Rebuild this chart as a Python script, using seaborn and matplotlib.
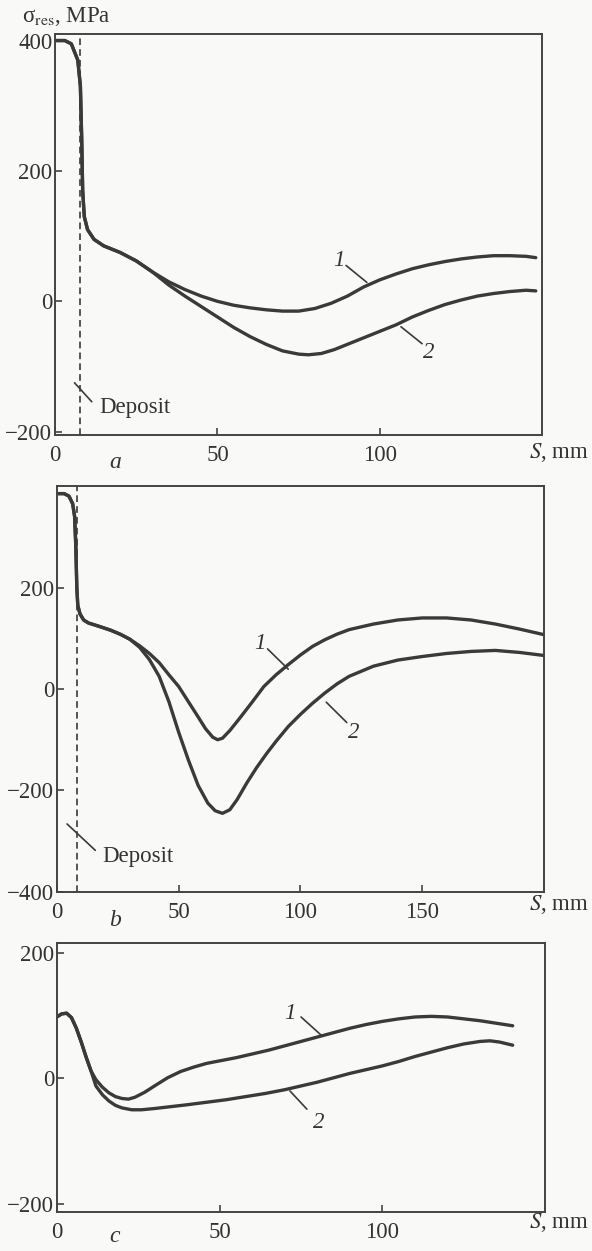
import pandas as pd
import matplotlib
matplotlib.use('Agg')
import matplotlib.pyplot as plt
import seaborn as sns

sns.set_style('ticks')
plt.rcParams['font.family'] = ['Liberation Serif', 'DejaVu Serif']
plt.rcParams['mathtext.fontset'] = 'stix'
plt.rcParams['axes.unicode_minus'] = True

# --- panel a ---
a_start_s = [0, 3, 5, 7, 7.8, 8.2, 8.5, 9, 10, 12, 15, 20, 25, 30]
a_start_v = [400, 400, 395, 370, 330, 250, 170, 130, 110, 95, 85, 75, 62, 45]
a1_s = [35, 40, 45, 50, 55, 60, 65, 70, 75, 80, 85, 90, 95, 100, 105, 110, 115, 120, 125, 130, 135, 140, 145, 148]
a1_v = [30, 18, 8, 0, -6, -10, -13, -15, -15, -11, -3, 8, 22, 33, 42, 50, 56, 61, 65, 68, 70, 70, 69, 67]
a2_s = [35, 40, 45, 50, 55, 60, 65, 70, 75, 78, 82, 86, 90, 95, 100, 105, 110, 115, 120, 125, 130, 135, 140, 145, 148]
a2_v = [25, 8, -8, -24, -40, -54, -66, -76, -81, -82, -80, -74, -66, -56, -46, -36, -24, -14, -5, 2, 8, 12, 15, 17, 16]

# --- panel b ---
b_start_s = [0, 3, 5, 6.5, 7.3, 7.8, 8.2, 8.6, 9.5, 11, 13, 17, 22, 26, 30]
b_start_v = [385, 385, 380, 365, 340, 280, 200, 165, 148, 136, 130, 124, 116, 108, 98]
b1_s = [34, 38, 42, 46, 50, 54, 58, 61, 64, 66, 68, 71, 75, 80, 85, 90, 95, 100, 105, 110, 115, 120, 130, 140, 150, 160, 170, 180, 190, 200]
b1_v = [85, 70, 52, 28, 5, -25, -55, -78, -95, -100, -97, -82, -58, -27, 5, 28, 48, 67, 84, 97, 108, 117, 128, 136, 140, 140, 136, 128, 118, 107]
b2_s = [34, 38, 42, 46, 50, 54, 58, 62, 65, 68, 71, 74, 78, 82, 86, 90, 95, 100, 105, 110, 115, 120, 130, 140, 150, 160, 170, 180, 190, 200]
b2_v = [82, 58, 25, -25, -85, -140, -190, -225, -240, -245, -238, -218, -185, -155, -128, -103, -74, -50, -28, -8, 10, 25, 45, 57, 64, 70, 74, 76, 72, 66]

# --- panel c ---
c_start_s = [0, 1.5, 3, 4.5, 6, 7.5, 9, 10.5]
c_start_v = [98, 103, 104, 97, 80, 58, 34, 12]
c1_s = [12, 14, 16, 18, 20, 22, 24, 27, 30, 34, 38, 42, 46, 50, 55, 60, 65, 70, 75, 80, 85, 90, 95, 100, 105, 110, 115, 120, 125, 130, 135, 140]
c1_v = [-2, -14, -23, -29, -32, -33, -30, -22, -12, 1, 11, 18, 24, 28, 33, 39, 45, 52, 59, 66, 73, 80, 86, 91, 95, 98, 99, 98, 95, 92, 88, 84]
c2_s = [12, 14, 16, 18, 20, 23, 26, 30, 35, 40, 46, 52, 58, 64, 70, 75, 80, 85, 90, 95, 100, 105, 110, 115, 120, 125, 130, 133, 136, 140]
c2_v = [-12, -26, -36, -43, -47, -50, -50, -48, -45, -42, -38, -34, -29, -24, -18, -12, -6, 1, 8, 14, 20, 27, 35, 42, 49, 55, 59, 60, 58, 53]

deposit_a = 7.7
deposit_b = 8.2

ink = '#3a3a3a'
bg = '#f9f9f7'
fs = 16.5


def make_df(start_s, start_v, s1, v1, s2, v2):
    rows = []
    for s, v in zip(start_s + s1, start_v + v1):
        rows.append({'S': s, 'sigma': v, 'curve': '1'})
    for s, v in zip(start_s + s2, start_v + v2):
        rows.append({'S': s, 'sigma': v, 'curve': '2'})
    return pd.DataFrame(rows)


fig = plt.figure(figsize=(5.92, 12.51), dpi=100, facecolor=bg)
ax_a = fig.add_axes([0.093, 0.6523, 0.823, 0.3205])
ax_b = fig.add_axes([0.096, 0.287, 0.823, 0.3245])
ax_c = fig.add_axes([0.096, 0.0312, 0.825, 0.215])

panels = [
    (ax_a, make_df(a_start_s, a_start_v, a1_s, a1_v, a2_s, a2_v), (0, 150), (-205, 410), [0, 50, 100], [-200, 0, 200, 400]),
    (ax_b, make_df(b_start_s, b_start_v, b1_s, b1_v, b2_s, b2_v), (0, 200), (-400, 400), [0, 50, 100, 150], [-400, -200, 0, 200]),
    (ax_c, make_df(c_start_s, c_start_v, c1_s, c1_v, c2_s, c2_v), (0, 150), (-213, 216), [0, 50, 100], [-200, 0, 200]),
]

for ax, df, xl, yl, xt, yt in panels:
    ax.set_facecolor(bg)
    sns.lineplot(data=df, x='S', y='sigma', hue='curve', palette=[ink, ink],
                 linewidth=2.4, legend=False, sort=False, ax=ax)
    ax.set_xlim(*xl)
    ax.set_ylim(*yl)
    ax.set_xticks(xt)
    ax.set_yticks(yt)
    ax.set_xlabel('')
    ax.set_ylabel('')
    for sp in ax.spines.values():
        sp.set_visible(True)
        sp.set_linewidth(1.4)
        sp.set_color('#444444')
    ax.tick_params(direction='in', length=5, width=1.2, color='#444444',
                   labelsize=fs, labelcolor='#333333')
    ax.tick_params(axis='x', pad=7)
    ax.tick_params(axis='y', pad=2)

lead = dict(arrowstyle='-', color=ink, lw=1.2, shrinkA=0, shrinkB=0)
txt = dict(fontsize=fs, color='#333333')

# panel a annotations
ax_a.axvline(deposit_a, color=ink, lw=1.2, ls=(0, (4, 2.5)))
ax_a.annotate('', xy=(96, 29), xytext=(89.6, 55), arrowprops=lead)
ax_a.text(87.3, 62, '1', style='italic', ha='center', va='center', **txt)
ax_a.annotate('', xy=(113, -65), xytext=(106.5, -39), arrowprops=lead)
ax_a.text(115, -78, '2', style='italic', ha='center', va='center', **txt)
ax_a.annotate('', xy=(11.3, -154), xytext=(6, -125), arrowprops=lead)
ax_a.text(13.5, -163, 'Deposit', ha='left', va='center', **txt)

# panel b annotations
ax_b.axvline(deposit_b, color=ink, lw=1.2, ls=(0, (4, 2.5)))
ax_b.annotate('', xy=(95, 39), xytext=(86.5, 79), arrowprops=lead)
ax_b.text(83.4, 90, '1', style='italic', ha='center', va='center', **txt)
ax_b.annotate('', xy=(119, -66), xytext=(110.6, -26), arrowprops=lead)
ax_b.text(122, -86, '2', style='italic', ha='center', va='center', **txt)
ax_b.annotate('', xy=(15.8, -318), xytext=(4.2, -266), arrowprops=lead)
ax_b.text(18.5, -330, 'Deposit', ha='left', va='center', **txt)

# panel c annotations
ax_c.annotate('', xy=(81.4, 68), xytext=(75, 98), arrowprops=lead)
ax_c.text(71.6, 104, '1', style='italic', ha='center', va='center', **txt)
ax_c.annotate('', xy=(76.8, -49), xytext=(71.6, -20), arrowprops=lead)
ax_c.text(80.3, -71, '2', style='italic', ha='center', va='center', **txt)

# figure-level labels
fig.text(22 / 592, 1 - 22 / 1251, 'σ$_\\mathrm{res}$, MPa', fontsize=fs, color='#333333', ha='left', va='baseline')
for ypix in [458, 910, 1228]:
    fig.text(589 / 592, 1 - ypix / 1251, '$S$, mm', fontsize=fs, color='#333333', ha='right', va='baseline')
for letter, ypix in [('a', 468), ('b', 926), ('c', 1242)]:
    fig.text(115 / 592, 1 - ypix / 1251, letter, fontsize=17, style='italic', color='#333333', ha='center', va='baseline')

fig.savefig('out.png', dpi=100, facecolor=bg)
